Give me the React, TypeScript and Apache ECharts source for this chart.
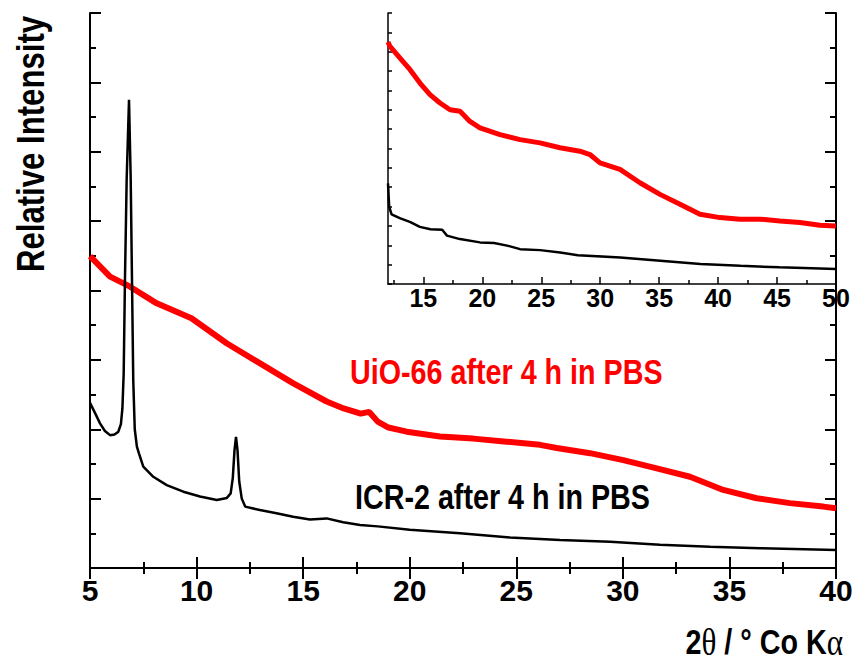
import React, { useEffect, useRef } from "react";
import * as echarts from "echarts";

// ---- Main panel data (2θ / ° Co Kα vs relative intensity) ----
const uioMainTheta = [5.0, 5.94, 6.88, 8.13, 9.76, 11.41, 12.98, 14.52, 16.1, 16.9, 17.7, 18.1, 18.5, 19.0, 19.86, 21.42, 22.98, 24.55, 26.11, 26.9, 28.46, 30.02, 31.59, 33.15, 34.71, 36.28, 37.84, 39.4, 40.0];
const uioMainIntensity = [8.99, 8.4, 8.11, 7.63, 7.2, 6.48, 5.9, 5.33, 4.8, 4.6, 4.45, 4.5, 4.22, 4.05, 3.93, 3.79, 3.73, 3.64, 3.55, 3.46, 3.31, 3.11, 2.87, 2.63, 2.25, 2.01, 1.87, 1.77, 1.72];

const icrMainTheta = [5.0, 5.25, 5.47, 5.7, 5.94, 6.15, 6.33, 6.45, 6.52, 6.58, 6.64, 6.72, 6.83, 6.91, 6.97, 7.03, 7.1, 7.2, 7.3, 7.5, 7.97, 8.6, 9.38, 10.16, 10.95, 11.42, 11.6, 11.7, 11.78, 11.85, 11.92, 12.0, 12.12, 12.28, 12.97, 13.75, 14.53, 15.32, 16.1, 16.88, 17.67, 18.5, 20.0, 22.36, 24.7, 27.05, 29.4, 31.74, 34.09, 36.44, 40.0];
const icrMainIntensity = [4.76, 4.45, 4.17, 3.95, 3.83, 3.85, 3.93, 4.15, 4.6, 5.6, 8.3, 11.2, 13.5, 11.2, 8.3, 5.4, 4.0, 3.5, 3.3, 2.92, 2.63, 2.39, 2.2, 2.06, 1.96, 2.02, 2.15, 2.6, 3.4, 3.78, 3.4, 2.5, 2.0, 1.77, 1.67, 1.58, 1.48, 1.4, 1.43, 1.32, 1.24, 1.2, 1.1, 1.0, 0.88, 0.81, 0.76, 0.67, 0.61, 0.57, 0.52];

// ---- Inset data (12–50°) ----
const uioInsetTheta = [12.0, 12.17, 13.02, 13.87, 14.71, 15.56, 16.41, 17.26, 18.11, 18.95, 19.8, 21.5, 23.2, 24.89, 26.59, 28.28, 29.13, 29.98, 31.68, 33.37, 35.07, 36.77, 38.46, 40.16, 41.86, 43.55, 45.25, 46.94, 48.64, 50.0];
const uioInsetIntensity = [12.5, 12.27, 11.67, 11.07, 10.38, 9.78, 9.35, 9.0, 8.92, 8.4, 8.07, 7.72, 7.46, 7.29, 7.04, 6.86, 6.69, 6.26, 5.92, 5.23, 4.63, 4.12, 3.6, 3.43, 3.35, 3.35, 3.26, 3.18, 3.04, 3.0];

const icrInsetTheta = [12.0, 12.1, 12.3, 13.0, 13.9, 14.7, 15.6, 16.6, 17.0, 18.1, 19.8, 21.0, 22.2, 23.2, 24.9, 26.6, 28.1, 31.7, 35.1, 38.5, 41.9, 45.2, 50.0];
const icrInsetIntensity = [5.2, 4.0, 3.6, 3.4, 3.2, 2.95, 2.83, 2.8, 2.5, 2.32, 2.15, 2.12, 1.97, 1.8, 1.75, 1.63, 1.49, 1.37, 1.2, 1.03, 0.94, 0.86, 0.77];

// ---- Tick values ----
const insetMajorTicks = [15, 20, 25, 30, 35, 40, 45, 50];
const insetMinorTicks = [12.5, 17.5, 22.5, 27.5, 32.5, 37.5, 42.5, 47.5];

const uioLabel = "UiO-66 after 4 h in PBS";
const icrLabel = "ICR-2 after 4 h in PBS";
const yTitle = "Relative Intensity";

const FONT = "'Liberation Sans', Arial, sans-serif";
const NARROW = 0.82;

const zip = (xs: number[], ys: number[]) => xs.map((x, i) => [x, ys[i]]);

export default function App() {
  const ref = useRef<HTMLDivElement>(null);
  useEffect(() => {
    if (!ref.current) return;
    const chart = echarts.init(ref.current, null, { renderer: "svg" });
    const black = "#000";
    const red = "#ff0000";
    const mainLine = { show: true, lineStyle: { color: black, width: 2 } };
    const mainTick = { show: true, inside: true, length: 11, lineStyle: { color: black, width: 2 } };
    const mainMinor = { show: true, splitNumber: 2, length: 6, lineStyle: { color: black, width: 2 } };
    const option: any = {
      animation: false,
      backgroundColor: "#fff",
      grid: [
        { left: 90, top: 13, width: 746, height: 555 },
        { left: 388, top: 13, width: 448, height: 271 },
      ],
      xAxis: [
        {
          gridIndex: 0, type: "value", min: 5, max: 40, interval: 5, position: "bottom",
          axisLine: mainLine, axisTick: mainTick, minorTick: mainMinor,
          splitLine: { show: false }, minorSplitLine: { show: false },
          axisLabel: { show: true, color: black, fontSize: 30, fontWeight: "bold", fontFamily: FONT, margin: 7 },
        },
        {
          gridIndex: 0, type: "value", min: 5, max: 40, interval: 5, position: "top",
          axisLine: mainLine, axisTick: mainTick, minorTick: mainMinor,
          splitLine: { show: false }, axisLabel: { show: false },
        },
        {
          gridIndex: 1, type: "value", min: 12, max: 50, position: "bottom",
          axisLine: { show: true, lineStyle: { color: black, width: 1.5 } },
          axisTick: { show: true, inside: true, length: 7, customValues: insetMajorTicks, lineStyle: { color: black, width: 1.5 } },
          splitLine: { show: false },
          axisLabel: { show: true, customValues: insetMajorTicks, color: black, fontSize: 25, fontWeight: "bold", fontFamily: FONT, margin: 1, showMinLabel: true, showMaxLabel: true },
        },
        {
          gridIndex: 1, type: "value", min: 12, max: 50, position: "bottom",
          axisLine: { show: false },
          axisTick: { show: true, inside: true, length: 4, customValues: insetMinorTicks, lineStyle: { color: black, width: 1.5 } },
          splitLine: { show: false }, axisLabel: { show: false },
        },
      ],
      yAxis: [
        {
          gridIndex: 0, type: "value", min: 0, max: 16, interval: 2, position: "left",
          axisLine: mainLine, axisTick: mainTick, minorTick: mainMinor,
          splitLine: { show: false }, axisLabel: { show: false },
        },
        {
          gridIndex: 0, type: "value", min: 0, max: 16, interval: 2, position: "right",
          axisLine: mainLine, axisTick: mainTick, minorTick: mainMinor,
          splitLine: { show: false }, axisLabel: { show: false },
        },
        {
          gridIndex: 1, type: "value", min: 0, max: 14, interval: 1, position: "left",
          axisLine: { show: true, lineStyle: { color: black, width: 1.5 } },
          axisTick: { show: true, inside: true, length: 4, lineStyle: { color: black, width: 1.5 } },
          splitLine: { show: false }, axisLabel: { show: false },
        },
      ],
      series: [
        {
          type: "line", name: uioLabel, xAxisIndex: 0, yAxisIndex: 0, showSymbol: false, symbol: "none",
          data: zip(uioMainTheta, uioMainIntensity), lineStyle: { color: red, width: 6 }, itemStyle: { color: red },
        },
        {
          type: "line", name: icrLabel, xAxisIndex: 0, yAxisIndex: 0, showSymbol: false, symbol: "none",
          data: zip(icrMainTheta, icrMainIntensity), lineStyle: { color: black, width: 2.5 }, itemStyle: { color: black },
        },
        {
          type: "line", name: uioLabel + " (inset)", xAxisIndex: 2, yAxisIndex: 2, showSymbol: false, symbol: "none",
          data: zip(uioInsetTheta, uioInsetIntensity), lineStyle: { color: red, width: 5 }, itemStyle: { color: red },
        },
        {
          type: "line", name: icrLabel + " (inset)", xAxisIndex: 2, yAxisIndex: 2, showSymbol: false, symbol: "none",
          data: zip(icrInsetTheta, icrInsetIntensity), lineStyle: { color: black, width: 2.5 }, itemStyle: { color: black },
        },
      ],
      graphic: [
        {
          type: "text", x: 31, y: 144, rotation: Math.PI / 2, scaleX: NARROW,
          style: { text: yTitle, fill: black, font: `bold 38px ${FONT}`, align: "center", verticalAlign: "middle" },
        },
        {
          type: "text", x: 350, y: 372, scaleX: NARROW,
          style: { text: uioLabel, fill: red, font: `bold 35px ${FONT}`, align: "left", verticalAlign: "middle" },
        },
        {
          type: "text", x: 355, y: 497, scaleX: NARROW,
          style: { text: icrLabel, fill: black, font: `bold 35px ${FONT}`, align: "left", verticalAlign: "middle" },
        },
        {
          type: "text", x: 843, y: 642, scaleX: NARROW,
          style: {
            text: "{a|2}{g|θ}{a| / ° Co K}{g|α}",
            align: "right", verticalAlign: "middle",
            rich: {
              a: { font: `bold 35px ${FONT}`, fill: black },
              g: { font: "38px 'Liberation Serif', 'DejaVu Serif', serif", fill: black },
            },
          },
        },
      ],
    };
    chart.setOption(option);
    return () => chart.dispose();
  }, []);
  return <div ref={ref} style={{ position: "fixed", left: 0, top: 0, width: 858, height: 665 }} />;
}
